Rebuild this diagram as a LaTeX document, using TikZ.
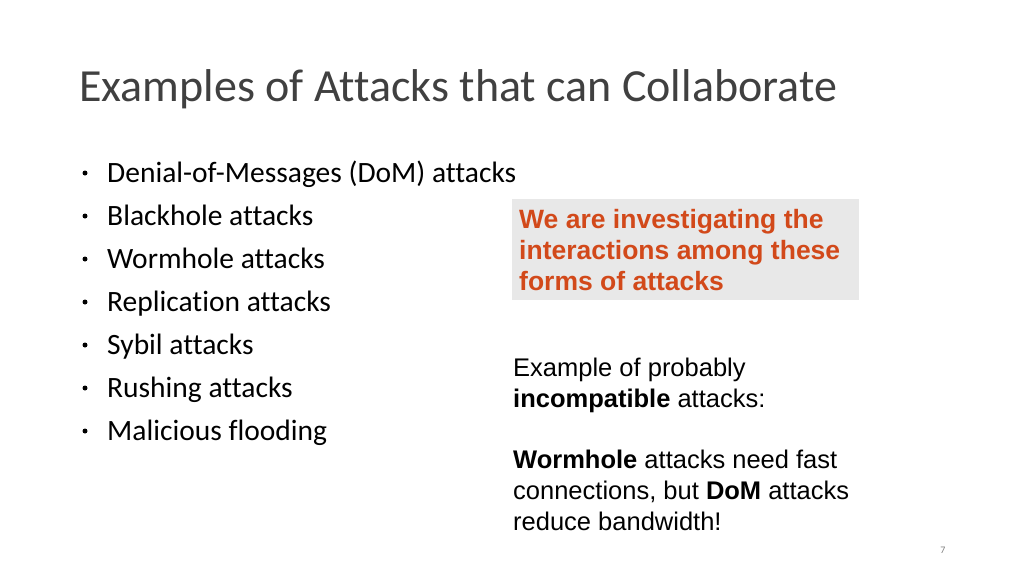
\documentclass[tikz,border=0pt]{standalone}
\usepackage{fontspec}
\setmainfont[Ligatures={NoCommon}]{Carlito}
\newfontfamily\arialf{Liberation Sans}
\definecolor{titlegray}{HTML}{404040}
\definecolor{boxgray}{HTML}{E8E8E8}
\definecolor{alertred}{HTML}{D2491A}
\begin{document}
\begin{tikzpicture}[x=1pt,y=-1pt,
  bul/.style={anchor=base west,inner sep=0pt,font=\fontsize{29.5}{34}\selectfont,text=black},
  rt/.style={anchor=base west,inner sep=0pt,font=\arialf\fontsize{25.5}{30}\selectfont,text=black},
  bx/.style={anchor=base west,inner sep=0pt,font=\arialf\bfseries\fontsize{26.5}{30}\selectfont,text=alertred}]
\useasboundingbox (0,0) rectangle (1024,576);
\node[anchor=base west,inner sep=0pt,font=\fontsize{46}{52}\selectfont,text=titlegray] (title) at (79,101) {Examples of Attacks that can Collaborate};
\foreach \t [count=\i] in {Denial-of-Messages (DoM) attacks,Blackhole attacks,Wormhole attacks,Replication attacks,Sybil attacks,Rushing attacks,Malicious flooding}{
  \node[bul] (b\i) at (107,{182+43*(\i-1)}) {\t};
  \node[circle,fill=black,inner sep=0pt,minimum size=5pt] (d\i) at (85,{173+43*(\i-1)}) {};
}
\fill[boxgray] (512,199) rectangle (859,300);
\node[bx] (x1) at (519,228) {We are investigating the};
\node[bx] (x2) at (519,259) {interactions among these};
\node[bx] (x3) at (519,290) {forms of attacks};
\node[rt] (r1) at (513,376) {Example of probably};
\node[rt] (r2) at (513,407) {\textbf{incompatible} attacks:};
\node[rt] (r3) at (513,468) {\textbf{Wormhole} attacks need fast};
\node[rt] (r4) at (513,499) {connections, but \textbf{DoM} attacks};
\node[rt] (r5) at (513,530) {reduce bandwidth!};
\node[anchor=base,inner sep=0pt,font=\fontsize{10}{12}\selectfont,text=gray] (pg) at (943,553) {7};
\end{tikzpicture}
\end{document}
